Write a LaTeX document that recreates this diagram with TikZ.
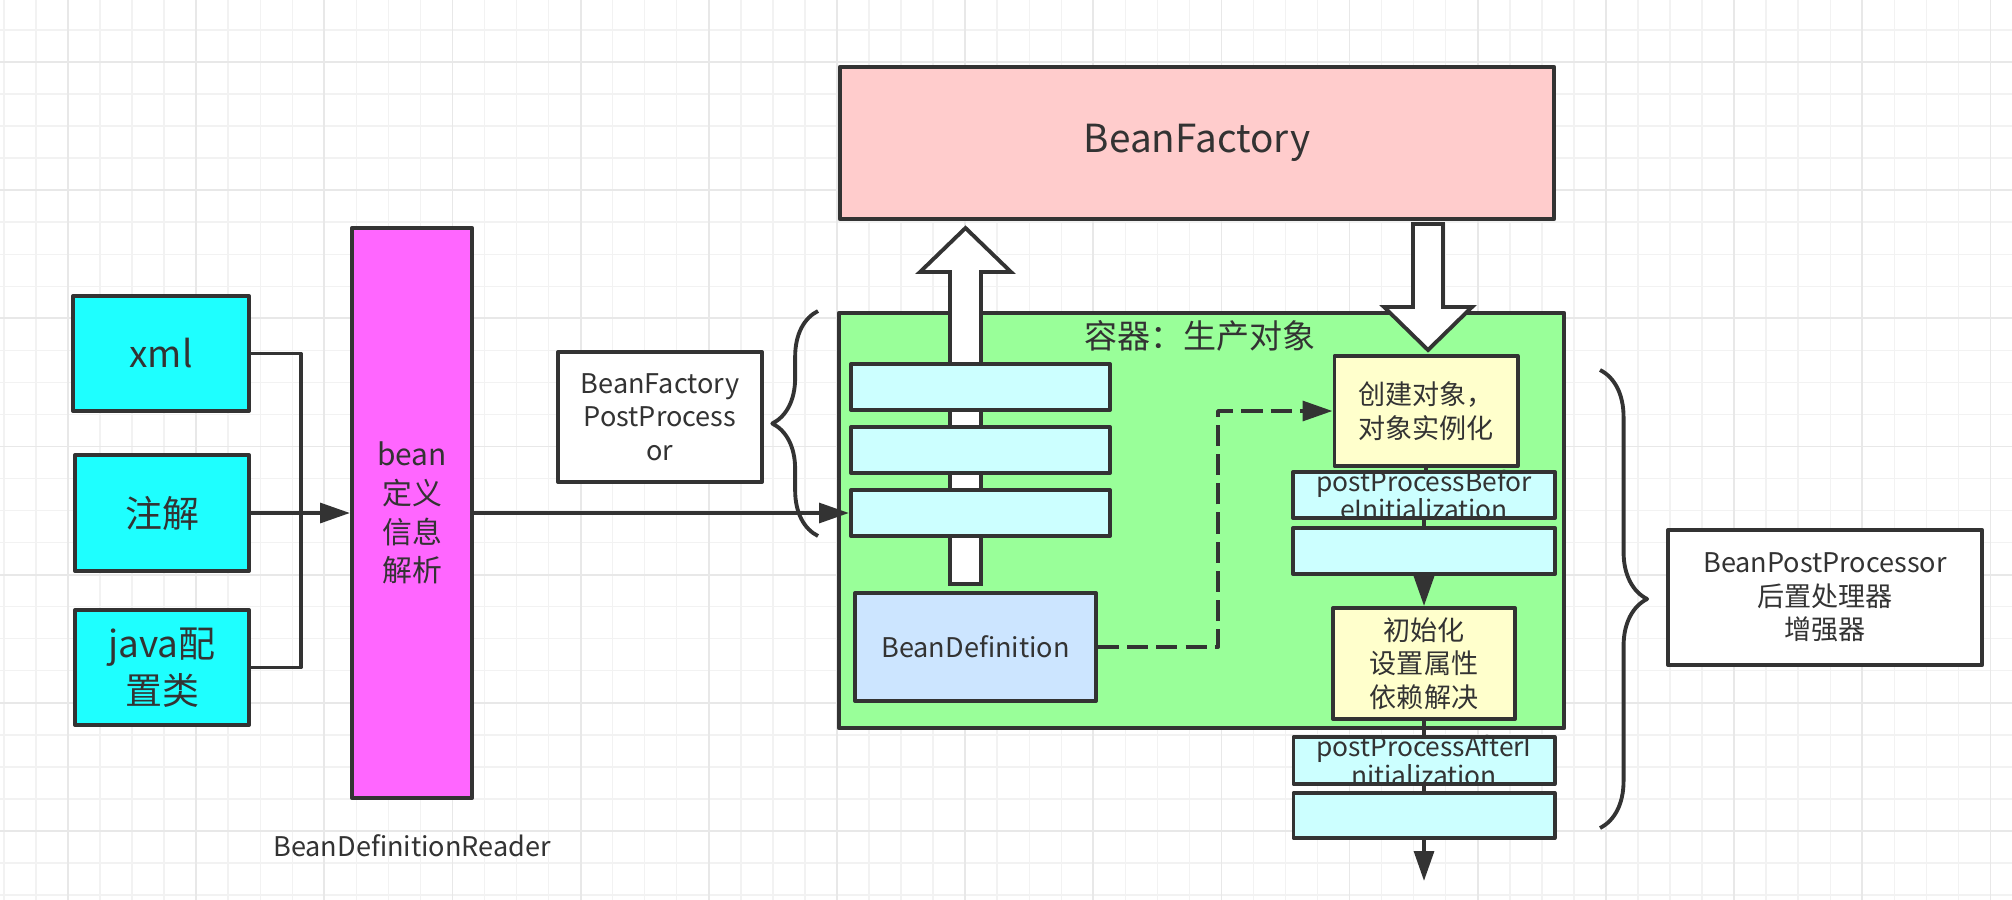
\documentclass[tikz,border=0pt]{standalone}
\usepackage{fontspec}
\setmainfont{Noto Sans CJK SC}
\usetikzlibrary{arrows.meta,decorations.pathreplacing}
\definecolor{linea}{HTML}{333333}
\definecolor{cian}{HTML}{1EFFFF}
\definecolor{magenta}{HTML}{FF66FF}
\definecolor{celeste}{HTML}{CCFFFF}
\definecolor{verde}{HTML}{99FF99}
\definecolor{rosa}{HTML}{FFCCCC}
\definecolor{crema}{HTML}{FFFFCC}
\definecolor{azulito}{HTML}{CCE5FF}

\begin{document}
\begin{tikzpicture}[x=0.01cm, y=-0.01cm, >={Triangle[length=8.5pt,width=5.6pt]}, line join=round]
  % Estilos de cajas, conectores y textos
  \tikzset{
    caja/.style={draw=linea, line width=1.1pt, inner sep=0pt, align=center, text=linea,
      font=\fontsize{7.7}{9.5}\selectfont},
    conector/.style={draw=linea, line width=1.1pt},
    flechahueca/.style={draw=linea, fill=white, line width=1.1pt, line join=miter},
    llave/.style={draw=linea, line width=1.1pt, decorate},
    textofino/.style={inner sep=0pt, align=center, text=linea, font=\fontsize{7.5}{8}\selectfont},
    gridfina/.style={draw=black!5, line width=0.4pt},
    gridgruesa/.style={draw=black!9, line width=0.5pt}
  }
  \useasboundingbox (0,0) rectangle (2012,900);

  % Cuadrícula de fondo
  \fill[white] (0,0) rectangle (2012,900);
  \foreach \i in {0,...,62} \draw[gridfina] ({3.92+32.04*\i},0) -- ++(0,900);
  \foreach \i in {1,...,28} \draw[gridfina] (0,{-2.08+32.04*\i}) -- ++(2012,0);
  \foreach \i in {0,...,15} \draw[gridgruesa] ({68+128.16*\i},0) -- ++(0,900);
  \foreach \i in {0,...,6} \draw[gridgruesa] (0,{62+128.16*\i}) -- ++(2012,0);

  % Fuentes de configuración
  \node[caja, fill=cian, minimum width=1.76cm, minimum height=1.15cm,
    font=\fontsize{10.5}{13.4}\selectfont] (xml) at (161,353.5) {xml};
  \node[caja, fill=cian, minimum width=1.74cm, minimum height=1.16cm,
    font=\fontsize{10.5}{13.4}\selectfont] (zhujie) at (162,513) {注解};
  \node[caja, fill=cian, minimum width=1.74cm, minimum height=1.15cm,
    font=\fontsize{10.5}{13.4}\selectfont] (java) at (162,667.5) {java配\\置类};

  % Lector de definiciones
  \node[caja, fill=magenta, minimum width=1.2cm, minimum height=5.7cm,
    font=\fontsize{8.5}{11}\selectfont] (bean) at (412,513) {bean\\定义\\信息\\解析};
  \node[textofino, font=\fontsize{7.7}{9.5}\selectfont] (reader) at (412,846) {BeanDefinitionReader};
  \node[caja, fill=white, minimum width=2.04cm, minimum height=1.3cm] (bfpp) at (660,417)
    {BeanFactory\\PostProcess\\or};

  % Fábrica y contenedor
  \node[caja, fill=rosa, minimum width=7.14cm, minimum height=1.52cm,
    font=\fontsize{11}{13}\selectfont] (bf) at (1197,143) {BeanFactory};
  \node[caja, fill=verde, minimum width=7.25cm, minimum height=4.15cm] (ctr) at (1201.5,520.5) {};
  \node[textofino, font=\fontsize{9.4}{11}\selectfont] (titulo) at (1200,336) {容器：生产对象};

  % Flechas huecas
  \draw[flechahueca] (950,584) -- (950,272) -- (920,272) -- (965.5,228) -- (1011,272)
    -- (981,272) -- (981,584) -- cycle; % hacia BeanFactory
  \draw[flechahueca] (1413,224) -- (1413,307) -- (1384,307) -- (1428,350) -- (1472,307)
    -- (1443,307) -- (1443,224) -- cycle; % desde BeanFactory

  % Cajas internas del contenedor
  \node[caja, fill=celeste, minimum width=2.59cm, minimum height=0.46cm] (c1) at (980.5,387) {};
  \node[caja, fill=celeste, minimum width=2.59cm, minimum height=0.46cm] (c2) at (980.5,450) {};
  \node[caja, fill=celeste, minimum width=2.59cm, minimum height=0.46cm] (c3) at (980.5,513) {};
  \node[caja, fill=azulito, minimum width=2.41cm, minimum height=1.08cm] (bd) at (975.5,647) {BeanDefinition};

  % Ciclo de vida del bean
  \node[caja, fill=crema, minimum width=1.83cm, minimum height=1.1cm] (create) at (1426,411) {创建对象，\\对象实例化};
  \node[caja, fill=celeste, minimum width=2.62cm, minimum height=0.46cm,
    label={[textofino]center:postProcessBefor\\eInitialization}] (pb) at (1424,495) {};
  \node[caja, fill=celeste, minimum width=2.62cm, minimum height=0.46cm] (pc) at (1424,551) {};
  \node[caja, fill=crema, minimum width=1.82cm, minimum height=1.11cm] (init) at (1424,663.5) {初始化\\设置属性\\依赖解决};
  \node[caja, fill=celeste, minimum width=2.61cm, minimum height=0.47cm,
    label={[textofino]center:postProcessAfterI\\nitialization}] (pa) at (1424,760.5) {};
  \node[caja, fill=celeste, minimum width=2.61cm, minimum height=0.45cm] (pd) at (1424,815.5) {};
  \coordinate (fin) at (1424,881);

  \node[caja, fill=white, minimum width=3.14cm, minimum height=1.35cm,
    font=\fontsize{7.7}{9.6}\selectfont] (bpp) at (1825,597.5) {BeanPostProcessor\\后置处理器\\增强器};

  % Conectores
  \coordinate (junta) at (301,513);
  \draw[conector] (xml.east) -| (junta);
  \draw[conector] (java.east) -| (junta);
  \draw[conector, ->] (zhujie.east) -- (bean.west);
  \draw[conector, ->] (bean.east) -- (c3.west);
  \draw[conector, dash pattern=on 6pt off 2.3pt, ->] (bd.east) -- ++(120,0) |- (create.west);
  \draw[conector] (create.south) -- (create.south |- pb.north);
  \draw[conector] (pb.south) -- (pc.north);
  \draw[conector, ->] (pc.south) -- (init.north);
  \draw[conector] (init.south) -- (pa.north);
  \draw[conector] (pa.south) -- (pd.north);
  \draw[conector, ->] (pd.south) -- (fin);

  % Llaves
  \draw[llave, decoration={brace, amplitude=13pt}] (818,536) -- (818,311); % BeanFactoryPostProcessor
  \draw[llave, decoration={brace, amplitude=13.4pt}] (1600,370) -- (1600,828); % BeanPostProcessor

\end{tikzpicture}
\end{document}
